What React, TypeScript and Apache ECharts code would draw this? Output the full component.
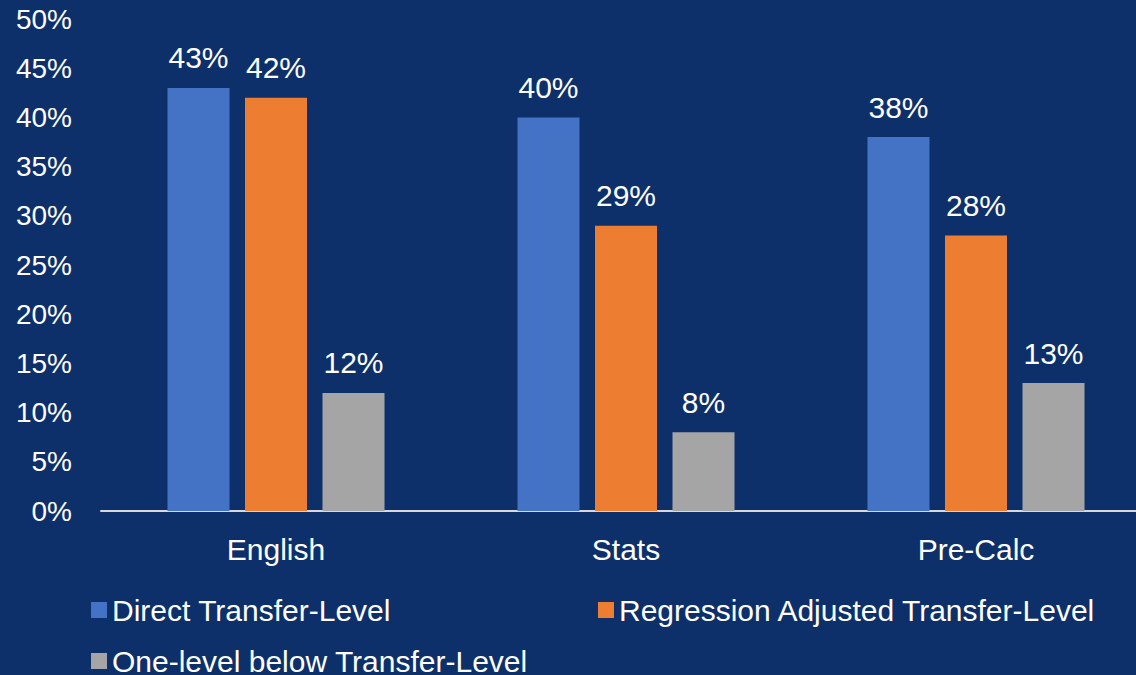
import React, { useEffect, useRef } from "react";
import * as echarts from "echarts";

const categories = ["English", "Stats", "Pre-Calc"];
const directTransfer = [43, 40, 38];
const regressionAdjusted = [42, 29, 28];
const oneLevelBelow = [12, 8, 13];
const yTicks = [0, 5, 10, 15, 20, 25, 30, 35, 40, 45, 50];

const seriesNames = [
  "Direct Transfer-Level",
  "Regression Adjusted Transfer-Level",
  "One-level below Transfer-Level",
];
const colors = ["#4472C4", "#ED7D31", "#A5A5A5"];
const FONT = "'Liberation Sans', Arial, sans-serif";

export default function App() {
  const ref = useRef<HTMLDivElement>(null);
  useEffect(() => {
    document.body.style.margin = "0";
    const chart = echarts.init(ref.current!, undefined, { renderer: "svg" });
    const mk = (name: string, data: number[], color: string) => ({
      name,
      type: "bar",
      data,
      barWidth: 62,
      barGap: "25%",
      itemStyle: { color },
      label: {
        show: true,
        position: "top",
        distance: 15,
        formatter: "{c}%",
        color: "#ffffff",
        fontSize: 30,
        fontFamily: FONT,
      },
    });
    const legendBase = {
      itemWidth: 16,
      itemHeight: 16,
      padding: 0,
      icon: "rect",
      textStyle: { color: "#ffffff", fontSize: 30, fontFamily: FONT },
    };
    chart.setOption({
      animation: false,
      backgroundColor: "#0d306a",
      textStyle: { fontFamily: FONT },
      grid: {
        left: 101,
        width: 1050,
        top: 19,
        bottom: 164,
        containLabel: false,
        outerBoundsMode: "none",
      },
      legend: [
        { ...legendBase, data: [seriesNames[0]], left: 91, top: 595 },
        { ...legendBase, data: [seriesNames[1]], left: 598, top: 595 },
        { ...legendBase, data: [seriesNames[2]], left: 91, top: 646 },
      ],
      xAxis: {
        type: "category",
        data: categories,
        axisLine: { show: true, lineStyle: { color: "#d9d9d9", width: 2 } },
        axisTick: { show: false },
        axisLabel: { color: "#ffffff", fontSize: 30, margin: 23, fontFamily: FONT },
      },
      yAxis: {
        type: "value",
        min: yTicks[0],
        max: yTicks[yTicks.length - 1],
        interval: 5,
        axisLine: { show: false },
        axisTick: { show: false },
        splitLine: { show: false },
        axisLabel: {
          color: "#ffffff",
          fontSize: 28,
          margin: 29,
          fontFamily: FONT,
          formatter: "{value}%",
        },
      },
      series: [
        mk(seriesNames[0], directTransfer, colors[0]),
        mk(seriesNames[1], regressionAdjusted, colors[1]),
        mk(seriesNames[2], oneLevelBelow, colors[2]),
      ],
    });
    return () => chart.dispose();
  }, []);
  return <div ref={ref} style={{ width: 1136, height: 675 }} />;
}
